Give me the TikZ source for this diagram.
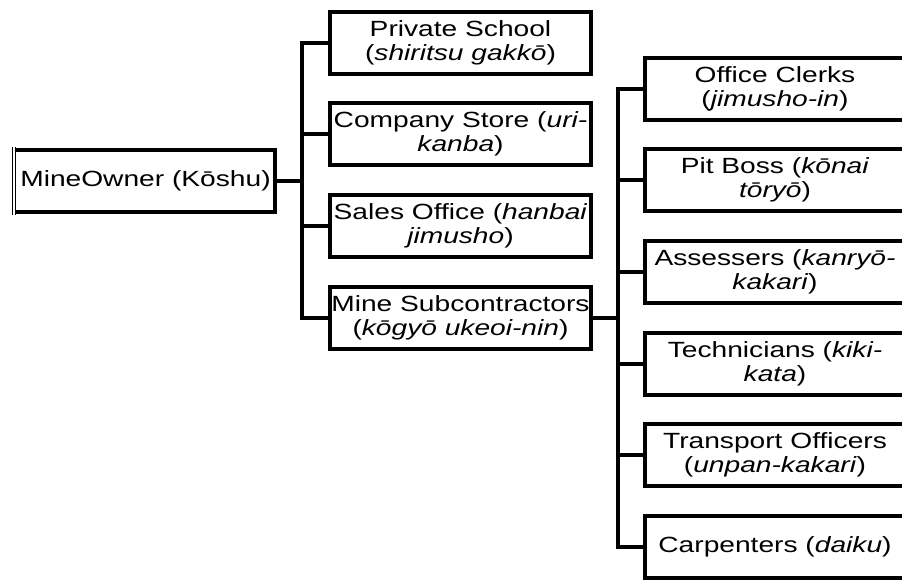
\documentclass[tikz,border=0pt]{standalone}
\usepackage{fontspec}
\setmainfont{Liberation Sans}[FakeStretch=1.28]
\begin{document}
\begin{tikzpicture}[x=1pt,y=-1pt,
  box/.style={draw=black,line width=4.5pt,rectangle,inner sep=0pt,
    minimum width=261pt,minimum height=62pt,align=center,
    font=\fontsize{22}{23.5}\selectfont},
  rbox/.style={box,minimum width=260pt},
  conn/.style={draw=black,line width=4.5pt}]
\useasboundingbox[fill=white] (0,0) rectangle (902,582);
\begin{scope}
\clip (0,0) rectangle (902,582);
% root
\node[box,draw=none,minimum width=259pt] (mo) at (145.5,181) {MineOwner (K\=oshu)};
\draw[line width=4.5pt] (14.5,150) -- (275,150) -- (275,212) -- (14.5,212);
\draw[line width=1pt] (15.5,147) -- (15.5,215);
\draw[line width=1pt] (12.5,147) -- (12.5,215);
% middle column
\node[box] (ps) at (460.5,43) {Private School\\(\textit{shiritsu gakk\=o})};
\node[box] (cs) at (460.5,134) {Company Store (\textit{uri-}\\\textit{kanba})};
\node[box] (so) at (460.5,226) {Sales Office (\textit{hanbai}\\\textit{jimusho})};
\node[box] (ms) at (460.5,318) {Mine Subcontractors\\(\textit{k\=ogy\=o ukeoi-nin})};
% right column
\node[rbox] (oc) at (775,89) {Office Clerks\\(\textit{jimusho-in})};
\node[rbox] (pb) at (775,180) {Pit Boss (\textit{k\=onai}\\\textit{t\=ory\=o})};
\node[rbox] (as) at (775,272) {Assessers (\textit{kanry\=o-}\\\textit{kakari})};
\node[rbox] (te) at (775,364) {Technicians (\textit{kiki-}\\\textit{kata})};
\node[rbox] (to) at (775,455) {Transport Officers\\(\textit{unpan-kakari})};
\node[rbox] (ca) at (775,547) {Carpenters (\textit{daiku})};
% connectors
\coordinate (j1) at (302,181);
\coordinate (j2) at (618,318);
\draw[conn] (mo.east) -- (j1);
\draw[conn] (ps.west) -| (j1) |- (ms.west);
\draw[conn] (j1 |- cs.west) -- (cs.west);
\draw[conn] (j1 |- so.west) -- (so.west);
\draw[conn] (ms.east) -- (j2);
\draw[conn] (oc.west) -| (j2) |- (ca.west);
\draw[conn] (j2 |- pb.west) -- (pb.west);
\draw[conn] (j2 |- as.west) -- (as.west);
\draw[conn] (j2 |- te.west) -- (te.west);
\draw[conn] (j2 |- to.west) -- (to.west);
\end{scope}
\end{tikzpicture}
\end{document}
